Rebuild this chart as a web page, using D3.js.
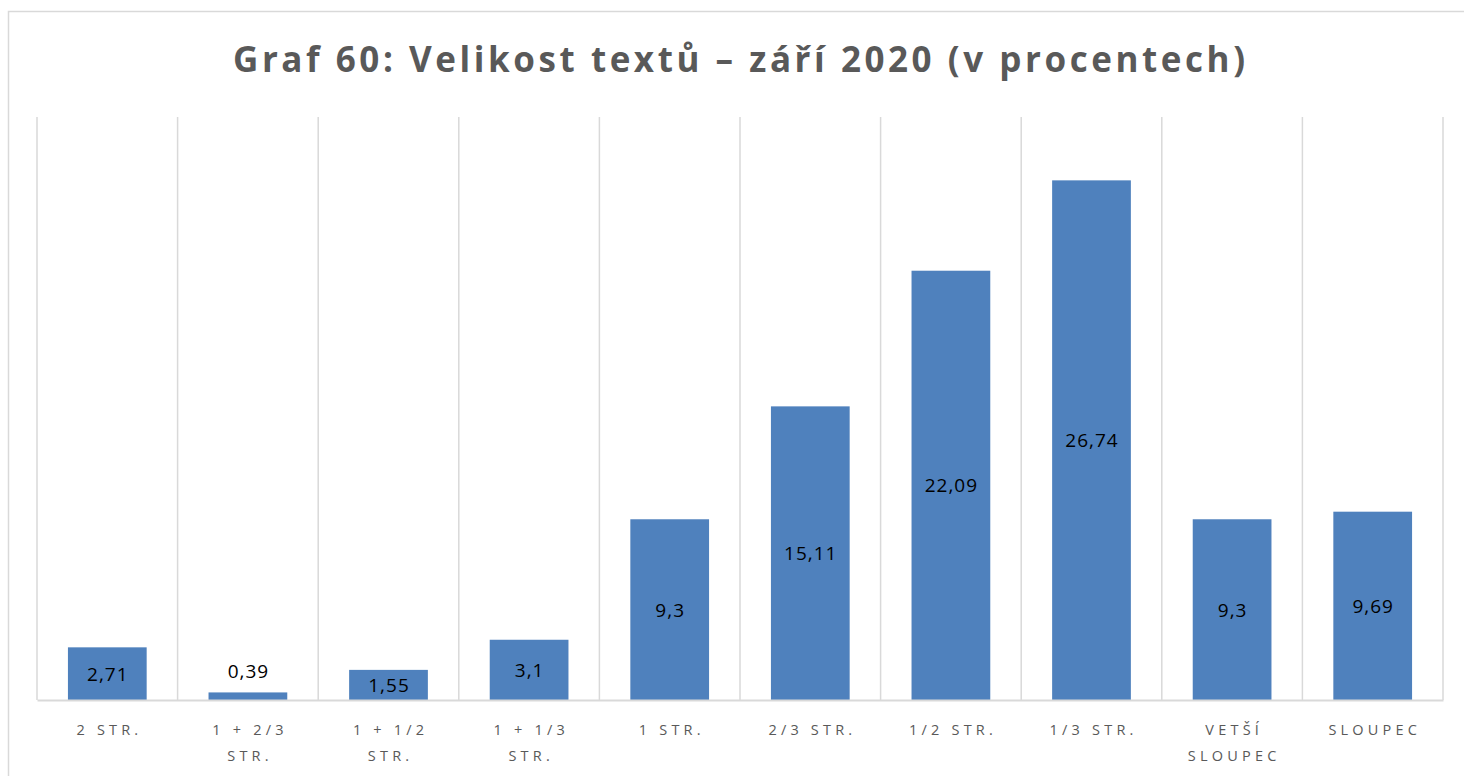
<!DOCTYPE html>
<html>
<head>
<meta charset="utf-8">
<script src="https://cdn.jsdelivr.net/npm/d3@7"></script>
<style>
  html, body { margin: 0; padding: 0; background: #fff; }
  svg { display: block; }
</style>
</head>
<body>
<svg id="chart" width="1464" height="776"></svg>
<script>
// Velikost textů – září 2020, podíl v procentech
const categories = [
  ["2 STR."],
  ["1 + 2/3", "STR."],
  ["1 + 1/2", "STR."],
  ["1 + 1/3", "STR."],
  ["1 STR."],
  ["2/3 STR."],
  ["1/2 STR."],
  ["1/3 STR."],
  ["VETŠÍ", "SLOUPEC"],
  ["SLOUPEC"]
];
const values = [2.71, 0.39, 1.55, 3.1, 9.3, 15.11, 22.09, 26.74, 9.3, 9.69];
const valueLabels = ["2,71", "0,39", "1,55", "3,1", "9,3", "15,11", "22,09", "26,74", "9,3", "9,69"];
const yDomain = [0, 30];

const svg = d3.select("#chart");
const W = 1464, H = 776;
const plot = { left: 37, right: 1443, top: 117, bottom: 700 };

// outer chart frame
svg.append("rect")
  .attr("x", 8.5).attr("y", 11.5)
  .attr("width", W + 10).attr("height", H + 10)
  .attr("fill", "#fff")
  .attr("stroke", "#d9d9d9").attr("stroke-width", 1.5);

// title
svg.append("text")
  .attr("x", 739).attr("y", 72)
  .attr("text-anchor", "middle")
  .attr("font-family", "'Open Sans', sans-serif")
  .attr("font-weight", 700)
  .attr("font-size", 35)
  .attr("textLength", 1012)
  .attr("lengthAdjust", "spacing")
  .attr("fill", "#595959")
  .text("Graf 60: Velikost textů – září 2020 (v procentech)");

const x = d3.scaleBand()
  .domain(d3.range(categories.length))
  .range([plot.left, plot.right])
  .paddingInner(0.44)
  .paddingOuter(0.22);

const y = d3.scaleLinear().domain(yDomain).range([plot.bottom, plot.top]);

// vertical separators between categories
const seps = d3.range(categories.length + 1).map(i => plot.left + i * (plot.right - plot.left) / categories.length);
svg.append("g").selectAll("line").data(seps).join("line")
  .attr("x1", d => d).attr("x2", d => d)
  .attr("y1", plot.top).attr("y2", plot.bottom)
  .attr("stroke", "#d9d9d9").attr("stroke-width", 1.5);

// bars
svg.append("g").selectAll("rect").data(values).join("rect")
  .attr("x", (d, i) => x(i))
  .attr("width", x.bandwidth())
  .attr("y", d => y(d))
  .attr("height", d => y(0) - y(d))
  .attr("fill", "#4f81bd");

// baseline axis
const xAxis = d3.axisBottom(x).tickSize(0).tickFormat("");
svg.append("g")
  .attr("transform", `translate(0,${plot.bottom})`)
  .call(xAxis)
  .call(g => g.select(".domain").attr("stroke", "#d9d9d9").attr("stroke-width", 2));

// value labels: centred in the bar, above it when the bar is too short
svg.append("g").selectAll("text").data(values).join("text")
  .attr("x", (d, i) => x(i) + x.bandwidth() / 2 + 0.5)
  .attr("y", d => {
    const h = y(0) - y(d);
    return h < 20 ? y(d) - 14 : (y(d) + y(0)) / 2 + 7;
  })
  .attr("text-anchor", "middle")
  .attr("font-family", "'Open Sans', sans-serif")
  .attr("font-size", 19)
  .attr("letter-spacing", 1)
  .attr("fill", "#000")
  .text((d, i) => valueLabels[i]);

// category labels
const cat = svg.append("g").selectAll("text").data(categories).join("text")
  .attr("text-anchor", "middle")
  .attr("font-family", "'Open Sans', sans-serif")
  .attr("font-size", 14.5)
  .attr("letter-spacing", 4.2)
  .attr("fill", "#595959");
cat.each(function(lines, i) {
  const t = d3.select(this);
  lines.forEach((ln, j) => {
    t.append("tspan")
      .attr("x", x(i) + x.bandwidth() / 2 + 2.1)
      .attr("y", 735 + j * 25.5)
      .text(ln);
  });
});
</script>
</body>
</html>
